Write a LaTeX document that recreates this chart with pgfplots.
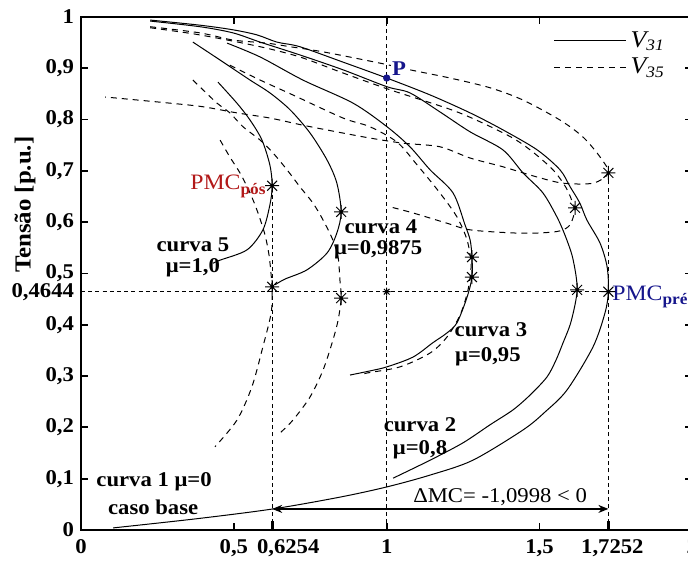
\documentclass[border=0pt]{standalone}
\usepackage{pgfplots}
\pgfplotsset{compat=1.18}
\usepackage{fontspec}
\setmainfont{Liberation Serif}[FakeStretch=1.08]
\usetikzlibrary{arrows.meta}

\definecolor{pmcred}{RGB}{178,24,24}
\definecolor{pmcblue}{RGB}{22,22,140}

% asterisk marker: plus and cross with a small dot in the middle
\pgfdeclareplotmark{ast8}{%
  \pgfpathmoveto{\pgfqpoint{0pt}{\pgfplotmarksize}}%
  \pgfpathlineto{\pgfqpoint{0pt}{-\pgfplotmarksize}}%
  \pgfpathmoveto{\pgfqpoint{\pgfplotmarksize}{0pt}}%
  \pgfpathlineto{\pgfqpoint{-\pgfplotmarksize}{0pt}}%
  \pgfpathmoveto{\pgfqpoint{0.707\pgfplotmarksize}{0.707\pgfplotmarksize}}%
  \pgfpathlineto{\pgfqpoint{-0.707\pgfplotmarksize}{-0.707\pgfplotmarksize}}%
  \pgfpathmoveto{\pgfqpoint{0.707\pgfplotmarksize}{-0.707\pgfplotmarksize}}%
  \pgfpathlineto{\pgfqpoint{-0.707\pgfplotmarksize}{0.707\pgfplotmarksize}}%
  \pgfusepathqstroke
  \pgfpathcircle{\pgfpointorigin}{0.9pt}\pgfusepathqfill
}

\tikzset{
  v31/.style={black, line width=0.5pt, smooth},
  v35/.style={black, line width=0.5pt, smooth, dash pattern=on 3pt off 2.5pt},
  guide/.style={black, line width=0.45pt, dash pattern=on 2pt off 1.6pt},
  lbl/.style={font=\bfseries\fontsize{10.5}{12}\selectfont, inner sep=0pt},
}

\begin{document}
\begin{tikzpicture}
\begin{axis}[
  scale only axis, width=305.7pt, height=256.5pt,
  xmin=0, xmax=2, ymin=0, ymax=1,
  clip=false,
  axis line style={line width=1.2pt},
  tick align=inside,
  major tick length=3.5pt,
  every tick/.append style={black, line width=0.9pt},
  xtick={0,0.5,1,1.5,2},
  ytick={0,0.1,0.2,0.3,0.4,0.5,0.6,0.7,0.8,0.9,1},
  /pgf/number format/use comma,
  /pgf/number format/assume math mode=true,
  tick label style={font=\bfseries\fontsize{10.5}{12}\selectfont},
  xticklabel style={yshift=-1.5pt},
  extra x ticks={0.6254,1.7252},
  extra x tick labels={\mbox{\hspace*{16pt}0,6254},\mbox{\hspace*{4pt}1,7252}},
  extra x tick style={xtick pos=bottom, major tick length=4.5pt,
    every tick/.append style={line width=1.6pt}},
  extra y ticks={0.4644},
  extra y tick labels={\mbox{0,4644}},
  extra y tick style={major tick length=0pt},
  legend style={at={(axis cs:1.525,0.988)}, anchor=north west, draw=none,
    fill=none, font=\fontsize{12}{14}\selectfont, row sep=0pt},
  legend cell align=left,
  legend image code/.code={\draw[#1] (0pt,0pt) -- (36pt,0pt);},
]

% guide lines through the maximum loading points
\addplot[guide, forget plot] coordinates {(0,0.4644) (1.7252,0.4644)};
\addplot[guide, forget plot] coordinates {(0.6254,0) (0.6254,0.671)};
\addplot[guide, forget plot] coordinates {(1,0) (1,1)};
\addplot[guide, forget plot] coordinates {(1.7252,0) (1.7252,0.696)};

% V31, curve 1 (mu = 0, base case)
\addplot[v31, forget plot] coordinates {
 (0.105,0.004) (0.380,0.022) (0.628,0.041) (0.847,0.064) (1.001,0.084)
 (1.142,0.107) (1.282,0.136) (1.446,0.195) (1.518,0.230) (1.590,0.273)
 (1.675,0.357) (1.714,0.423) (1.7252,0.4644) (1.721,0.513) (1.698,0.559)
 (1.655,0.604) (1.632,0.637) (1.600,0.669) (1.567,0.702) (1.492,0.741)
 (1.380,0.780) (1.273,0.813) (1.142,0.848) (1.0,0.881) (0.857,0.912)
 (0.716,0.942) (0.641,0.951) (0.576,0.965) (0.497,0.975) (0.389,0.984)
 (0.226,0.994)};
% V31, curve 2 (mu = 0.8)
\addplot[v31, forget plot] coordinates {
 (1.021,0.101) (1.142,0.136) (1.250,0.170) (1.338,0.205) (1.413,0.234)
 (1.469,0.263) (1.524,0.298) (1.553,0.330) (1.577,0.365) (1.600,0.400)
 (1.616,0.439) (1.623,0.468) (1.619,0.497) (1.606,0.536) (1.583,0.575)
 (1.557,0.610) (1.511,0.657) (1.446,0.696) (1.380,0.741) (1.273,0.776)
 (1.174,0.815) (1.076,0.852) (1.001,0.864) (0.857,0.897) (0.716,0.926)
 (0.586,0.951) (0.497,0.969) (0.389,0.981) (0.226,0.992)};
% V31, curve 3 (mu = 0.95)
\addplot[v31, forget plot] coordinates {
 (0.880,0.302) (0.945,0.310) (1.001,0.318) (1.086,0.337) (1.151,0.365)
 (1.197,0.384) (1.230,0.404) (1.263,0.454) (1.279,0.493) (1.279,0.532)
 (1.273,0.565) (1.256,0.595) (1.217,0.657) (1.142,0.702) (1.076,0.747)
 (1.001,0.786) (0.890,0.832) (0.726,0.877) (0.586,0.922) (0.478,0.949)};
% V31, curve 4 (mu = 0.9875)
\addplot[v31, forget plot] coordinates {
 (0.635,0.478) (0.667,0.489) (0.739,0.507) (0.805,0.540) (0.837,0.579)
 (0.851,0.620) (0.837,0.676) (0.805,0.721) (0.749,0.774) (0.684,0.819)
 (0.618,0.852) (0.553,0.877) (0.455,0.916) (0.366,0.951)};
% V31, curve 5 (mu = 1.0)
\addplot[v31, forget plot] coordinates {
 (0.432,0.520) (0.455,0.526) (0.543,0.546) (0.595,0.585) (0.618,0.634)
 (0.6254,0.671) (0.618,0.711) (0.592,0.760) (0.553,0.799) (0.510,0.832)
 (0.448,0.873)};

% V35, curve 1 (mu = 0, base case)
\addplot[v35, forget plot] coordinates {
 (0.226,0.981) (0.389,0.969) (0.497,0.955) (0.608,0.949) (0.684,0.942)
 (0.792,0.932) (0.978,0.910) (1.076,0.897) (1.207,0.881) (1.338,0.862)
 (1.446,0.838) (1.567,0.799) (1.642,0.766) (1.698,0.727) (1.7252,0.696)
 (1.675,0.676) (1.577,0.676) (1.492,0.688) (1.380,0.708) (1.273,0.725)
 (1.174,0.747) (1.053,0.754) (0.945,0.764) (0.837,0.776) (0.726,0.789)
 (0.618,0.803) (0.510,0.813) (0.399,0.825) (0.291,0.832) (0.079,0.844)};
% V35, curve 2 (mu = 0.8)
\addplot[v35, forget plot] coordinates {
 (0.226,0.979) (0.389,0.965) (0.586,0.942) (0.716,0.922) (0.847,0.893)
 (1.011,0.858) (1.230,0.815) (1.394,0.770) (1.469,0.741) (1.544,0.702)
 (1.587,0.667) (1.609,0.637) (1.616,0.624) (1.600,0.595) (1.567,0.583)
 (1.501,0.579) (1.413,0.579) (1.273,0.585) (1.197,0.598) (1.086,0.618)
 (1.010,0.630)};
% V35, curve 3 (mu = 0.95)
\addplot[v35, forget plot] coordinates {
 (0.487,0.906) (0.586,0.877) (0.693,0.848) (0.857,0.803) (0.945,0.786)
 (1.034,0.756) (1.099,0.712) (1.174,0.657) (1.230,0.610) (1.263,0.565)
 (1.276,0.517) (1.266,0.468) (1.240,0.419) (1.197,0.376) (1.142,0.345)
 (1.044,0.318) (0.936,0.306) (0.913,0.302)};
% V35, curve 4 (mu = 0.9875)
\addplot[v35, forget plot] coordinates {
 (0.366,0.877) (0.399,0.858) (0.445,0.832) (0.487,0.813) (0.530,0.786)
 (0.586,0.760) (0.628,0.735) (0.674,0.702) (0.716,0.669) (0.759,0.637)
 (0.792,0.604) (0.824,0.565) (0.841,0.532) (0.847,0.487) (0.851,0.452)
 (0.841,0.409) (0.824,0.370) (0.792,0.312) (0.749,0.259) (0.693,0.214)
 (0.651,0.189)};
% V35, curve 5 (mu = 1.0)
\addplot[v35, forget plot] coordinates {
 (0.455,0.760) (0.487,0.727) (0.520,0.696) (0.553,0.657) (0.579,0.618)
 (0.602,0.575) (0.615,0.536) (0.622,0.497) (0.625,0.468) (0.622,0.423)
 (0.595,0.357) (0.559,0.279) (0.510,0.214) (0.438,0.162)};

% marked operating points
\addplot[only marks, mark=ast8, mark size=3.5pt, black, line width=0.5pt, forget plot]
 coordinates {(0.6254,0.671) (0.6254,0.474) (0.851,0.620) (0.851,0.452)
 (1.279,0.532) (1.279,0.493) (1.616,0.628) (1.623,0.468)
 (1.7252,0.696) (1.7252,0.4644)};
\addplot[only marks, mark=ast8, mark size=2pt, black, line width=0.5pt, forget plot]
 coordinates {(1.0,0.4644)};
\addplot[only marks, mark=*, mark size=1.6pt, pmcblue, forget plot]
 coordinates {(1.0,0.881)};

% loading margin arrow
\draw[{Stealth[length=5pt,width=4pt]}-{Stealth[length=5pt,width=4pt]}, line width=0.6pt]
  (axis cs:0.6254,0.041) -- (axis cs:1.7252,0.041);

% annotations
\node[lbl, text=pmcblue, fill=white, inner sep=0.6pt] at (axis cs:1.040,0.899) {P};
\node[anchor=base east, inner sep=0pt, text=pmcred, font=\fontsize{11}{13}\selectfont]
  at (axis cs:0.605,0.663) {PMC\raisebox{-0.45ex}{\bfseries\fontsize{8}{9}\selectfont pós}};
\node[anchor=base west, inner sep=0pt, text=pmcblue, font=\fontsize{11}{13}\selectfont]
  at (axis cs:1.737,0.448) {PMC\raisebox{-0.45ex}{\bfseries\fontsize{8}{9}\selectfont pré}};
\node[lbl] at (axis cs:0.366,0.556) {curva 5};
\node[lbl] at (axis cs:0.366,0.511) {μ=1,0};
\node[lbl] at (axis cs:0.981,0.592) {curva 4};
\node[lbl] at (axis cs:0.972,0.546) {μ=0,9875};
\node[lbl] at (axis cs:1.341,0.390) {curva 3};
\node[lbl] at (axis cs:1.331,0.337) {μ=0,95};
\node[lbl] at (axis cs:1.109,0.205) {curva 2};
\node[lbl] at (axis cs:1.109,0.156) {μ=0,8};
\node[lbl] at (axis cs:0.239,0.094) {curva 1 μ=0};
\node[lbl] at (axis cs:0.236,0.045) {caso base};
\node[inner sep=0pt, font=\fontsize{10.5}{12}\selectfont] at (axis cs:1.371,0.064) {ΔMC= -1,0998 < 0};
\node[rotate=90, inner sep=0pt, font=\bfseries\fontsize{11.5}{13}\selectfont]
  at (axis cs:-0.183,0.634) {Tensão [p.u.]};

\addlegendimage{black, line width=0.5pt}
\addlegendentry{\itshape V\textsubscript{31}}
\addlegendimage{black, line width=0.5pt, dash pattern=on 3pt off 2.5pt}
\addlegendentry{\itshape V\textsubscript{35}}

\coordinate (bbsw) at (axis cs:-0.265,-0.0604);
\coordinate (bbne) at (axis cs:1.9856,1.0331);
\end{axis}
\pgfresetboundingbox
\useasboundingbox (bbsw) rectangle (bbne);
\end{tikzpicture}
\end{document}
